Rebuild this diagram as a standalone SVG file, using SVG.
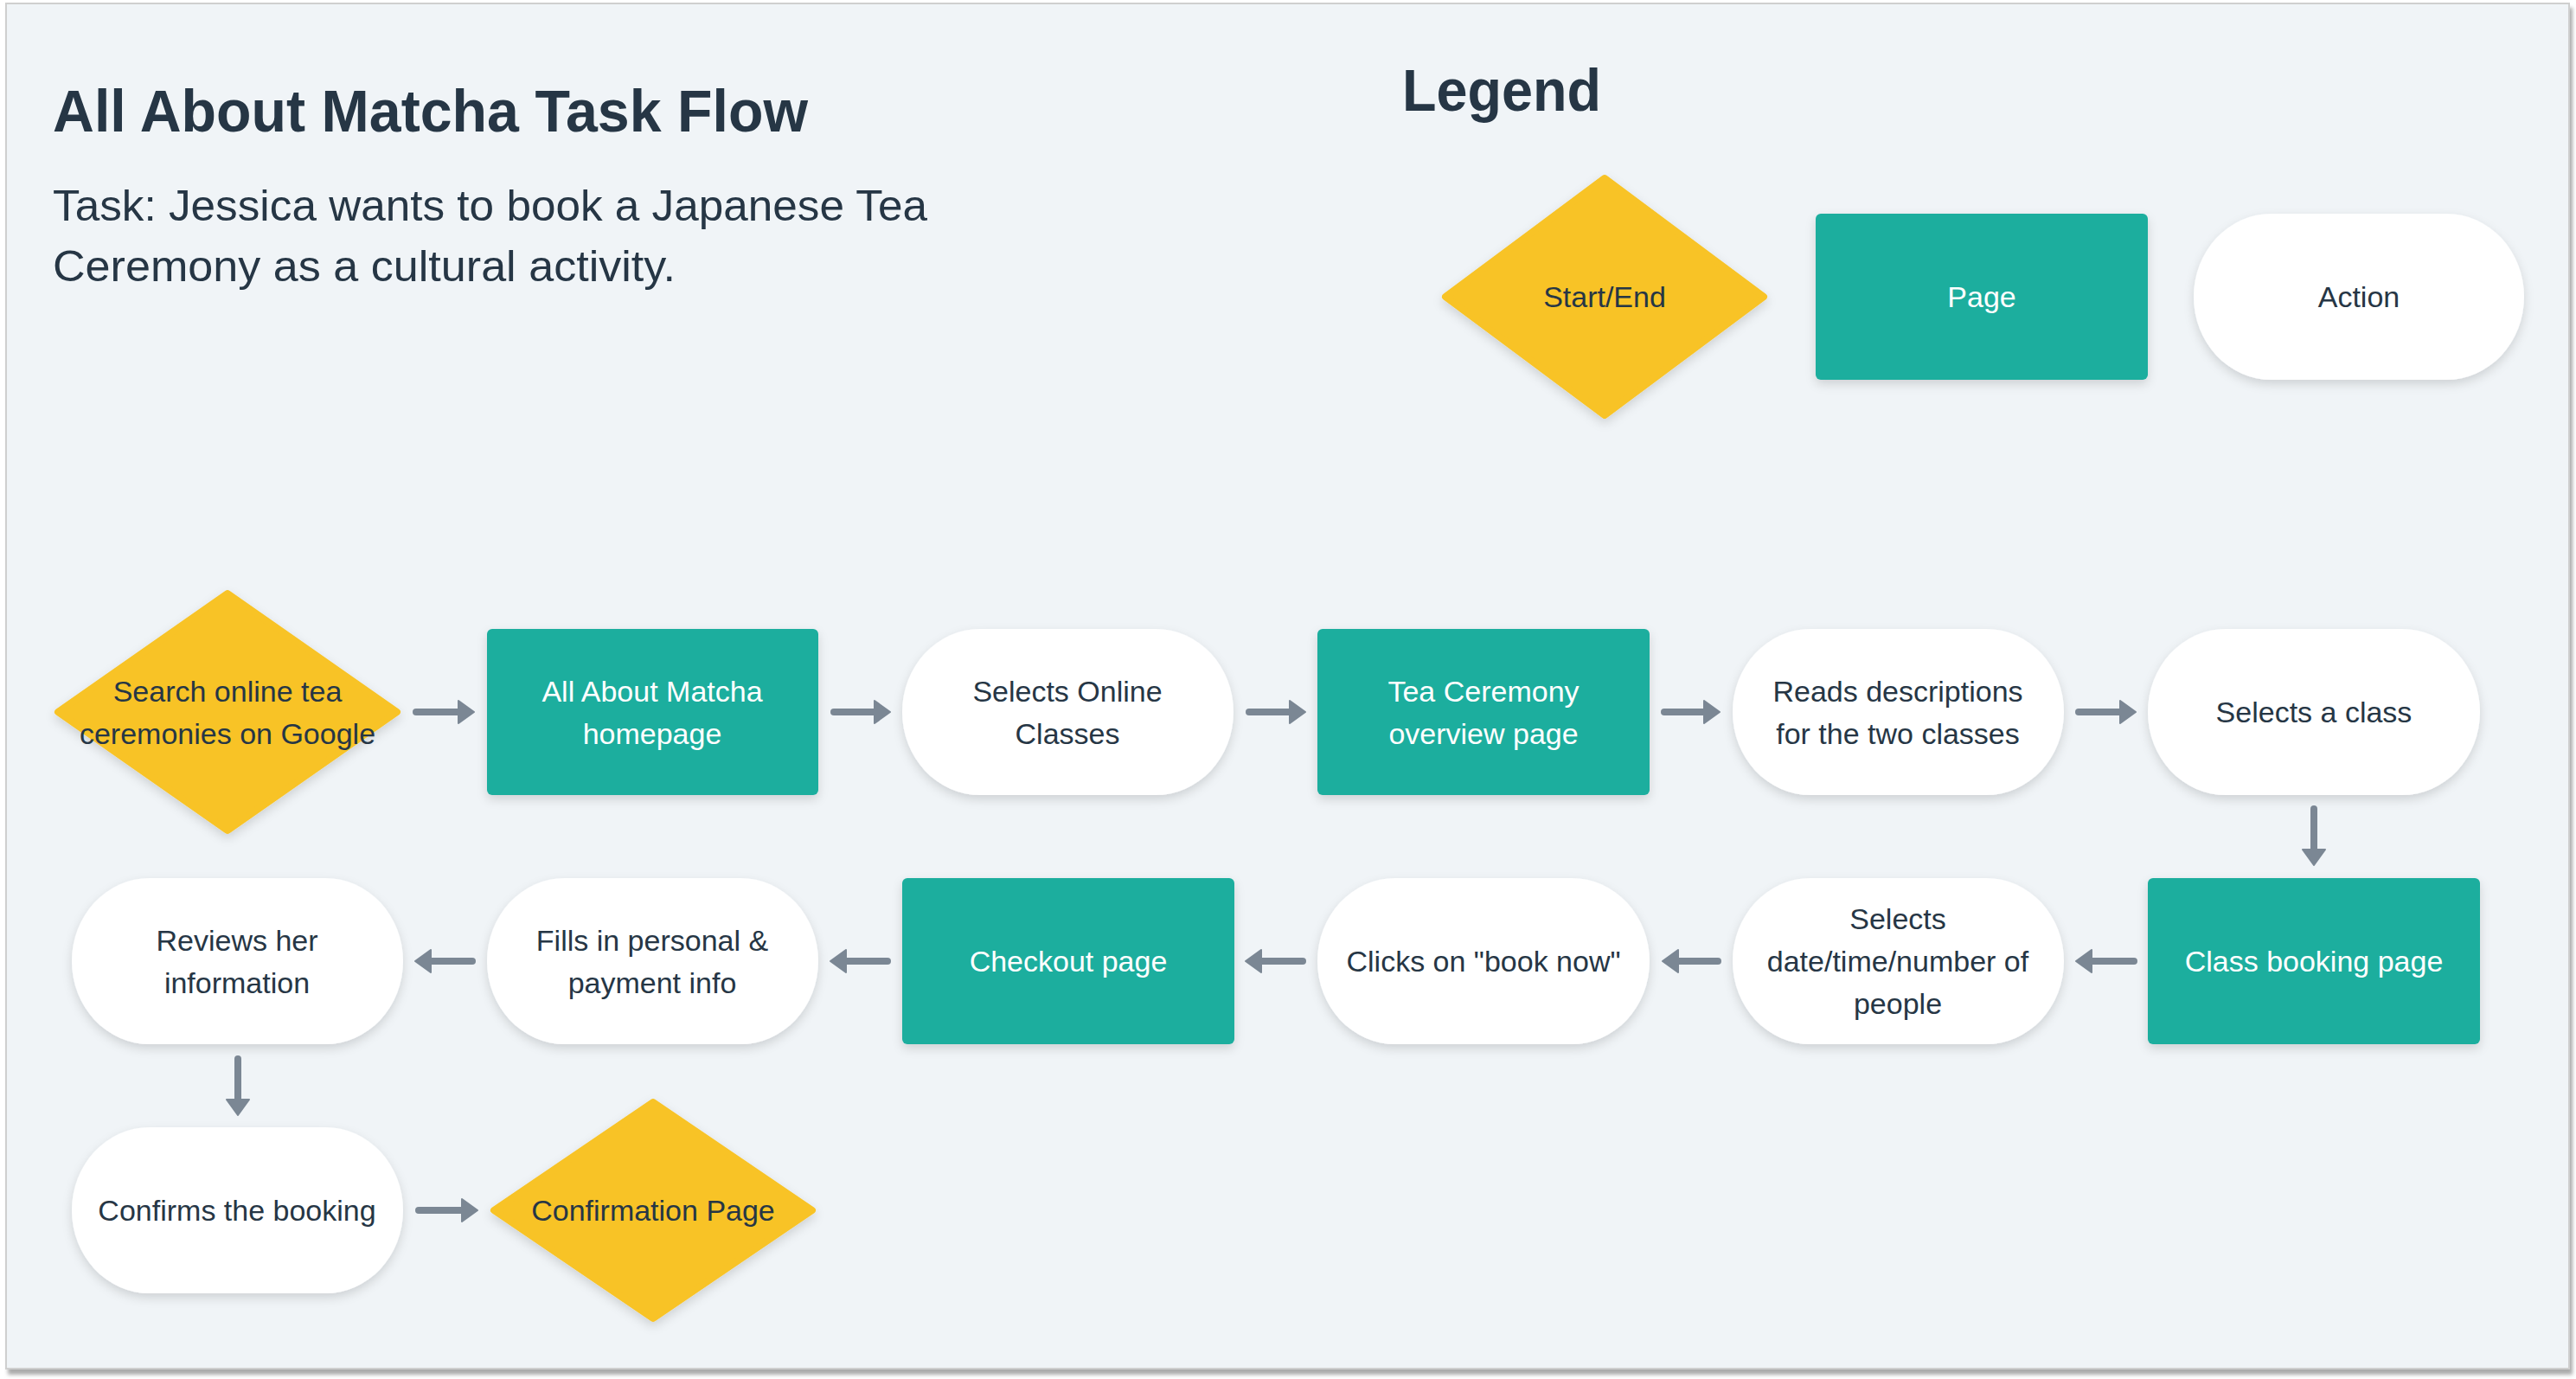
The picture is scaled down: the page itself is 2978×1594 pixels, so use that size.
<svg xmlns="http://www.w3.org/2000/svg" width="2978" height="1594" viewBox="0 0 2978 1594">
<defs>
<style>
.bg{fill:#F0F4F7;stroke:#cfcfcf;stroke-width:2}
.start{fill:#F8C326;stroke:#F8C326;stroke-width:8;stroke-linejoin:round}
.page{fill:#1BAE9E}
.action{fill:#FFFFFF}
.t{font-family:"Liberation Sans",Arial,sans-serif;font-size:34px;text-anchor:middle;fill:#263645}
.tw{fill:#FFFFFF}
.h{font-family:"Liberation Sans",Arial,sans-serif;font-weight:bold;font-size:68px;fill:#263645}
.sub{font-family:"Liberation Sans",Arial,sans-serif;font-size:50px;fill:#263645}
.conn{fill:none;stroke:#7B8794;stroke-width:8;stroke-linecap:round}
</style>
<filter id="sh" x="-10%" y="-10%" width="120%" height="130%">
<feDropShadow dx="0" dy="5" stdDeviation="6" flood-color="#000" flood-opacity="0.14"/>
</filter>
<filter id="psh" x="-2%" y="-2%" width="104%" height="104%">
<feDropShadow dx="3" dy="6" stdDeviation="2" flood-color="#888" flood-opacity="0.7"/>
</filter>
<marker id="ah" viewBox="-1 -1 20 28" refX="2" refY="13" markerWidth="20" markerHeight="28" markerUnits="userSpaceOnUse" orient="auto">
<path d="M0,0 L18,13 L0,26 Z" fill="#7B8794" stroke="#7B8794" stroke-width="2" stroke-linejoin="round"/>
</marker>
</defs>
<rect x="0" y="0" width="2978" height="1594" fill="#FFFFFF"/>
<rect class="bg" x="7" y="4" width="2963" height="1578" filter="url(#psh)"/>

<g id="title">
<text class="h" x="61" y="152" textLength="873" lengthAdjust="spacingAndGlyphs">All About Matcha Task Flow</text>
<text class="sub" x="61" y="255" textLength="1011" lengthAdjust="spacingAndGlyphs">Task: Jessica wants to book a Japanese Tea</text>
<text class="sub" x="61" y="325" textLength="720" lengthAdjust="spacingAndGlyphs">Ceremony as a cultural activity.</text>
</g>

<g id="legend">
<text class="h" x="1621" y="128" textLength="230" lengthAdjust="spacingAndGlyphs">Legend</text>
<g id="legend-start">
<path class="start" filter="url(#sh)" d="M1855,206 L2039,343 L1855,480 L1671,343 Z"/>
<text class="t" x="1855" y="355">Start/End</text>
</g>
<g id="legend-page">
<rect class="page" filter="url(#sh)" x="2099" y="247" width="384" height="192" rx="6"/>
<text class="t tw" x="2291" y="355">Page</text>
</g>
<g id="legend-action">
<rect class="action" filter="url(#sh)" x="2536" y="247" width="382" height="192" rx="90" ry="96"/>
<text class="t" x="2727" y="355">Action</text>
</g>
</g>

<g id="connectors">
<path class="conn" marker-end="url(#ah)" d="M481,823 H532"/>
<path class="conn" marker-end="url(#ah)" d="M964,823 H1013"/>
<path class="conn" marker-end="url(#ah)" d="M1444,823 H1493"/>
<path class="conn" marker-end="url(#ah)" d="M1924,823 H1972"/>
<path class="conn" marker-end="url(#ah)" d="M2403,823 H2453"/>
<path class="conn" marker-end="url(#ah)" d="M2675,935 V984"/>
<path class="conn" marker-end="url(#ah)" d="M2467,1111 H2416"/>
<path class="conn" marker-end="url(#ah)" d="M1986,1111 H1938"/>
<path class="conn" marker-end="url(#ah)" d="M1506,1111 H1456"/>
<path class="conn" marker-end="url(#ah)" d="M1026,1111 H976"/>
<path class="conn" marker-end="url(#ah)" d="M546,1111 H496"/>
<path class="conn" marker-end="url(#ah)" d="M275,1224 V1273"/>
<path class="conn" marker-end="url(#ah)" d="M484,1399 H536"/>
</g>

<g id="n-search">
<path class="start" filter="url(#sh)" d="M263,686 L459,823 L263,960 L67,823 Z"/>
<text class="t" x="263" y="811">Search online tea</text>
<text class="t" x="263" y="860">ceremonies on Google</text>
</g>
<g id="n-homepage">
<rect class="page" filter="url(#sh)" x="563" y="727" width="383" height="192" rx="6"/>
<text class="t tw" x="754" y="811">All About Matcha</text>
<text class="t tw" x="754" y="860">homepage</text>
</g>
<g id="n-online">
<rect class="action" filter="url(#sh)" x="1043" y="727" width="383" height="192" rx="90" ry="96"/>
<text class="t" x="1234" y="811">Selects Online</text>
<text class="t" x="1234" y="860">Classes</text>
</g>
<g id="n-overview">
<rect class="page" filter="url(#sh)" x="1523" y="727" width="384" height="192" rx="6"/>
<text class="t tw" x="1715" y="811">Tea Ceremony</text>
<text class="t tw" x="1715" y="860">overview page</text>
</g>
<g id="n-reads">
<rect class="action" filter="url(#sh)" x="2003" y="727" width="383" height="192" rx="90" ry="96"/>
<text class="t" x="2194" y="811">Reads descriptions</text>
<text class="t" x="2194" y="860">for the two classes</text>
</g>
<g id="n-selectclass">
<rect class="action" filter="url(#sh)" x="2483" y="727" width="384" height="192" rx="90" ry="96"/>
<text class="t" x="2675" y="835">Selects a class</text>
</g>
<g id="n-booking">
<rect class="page" filter="url(#sh)" x="2483" y="1015" width="384" height="192" rx="6"/>
<text class="t tw" x="2675" y="1123">Class booking page</text>
</g>
<g id="n-date">
<rect class="action" filter="url(#sh)" x="2003" y="1015" width="383" height="192" rx="90" ry="96"/>
<text class="t" x="2194" y="1074">Selects</text>
<text class="t" x="2194" y="1123">date/time/number of</text>
<text class="t" x="2194" y="1172">people</text>
</g>
<g id="n-clicks">
<rect class="action" filter="url(#sh)" x="1523" y="1015" width="384" height="192" rx="90" ry="96"/>
<text class="t" x="1715" y="1123">Clicks on "book now"</text>
</g>
<g id="n-checkout">
<rect class="page" filter="url(#sh)" x="1043" y="1015" width="384" height="192" rx="6"/>
<text class="t tw" x="1235" y="1123">Checkout page</text>
</g>
<g id="n-fills">
<rect class="action" filter="url(#sh)" x="563" y="1015" width="383" height="192" rx="90" ry="96"/>
<text class="t" x="754" y="1099">Fills in personal &amp;</text>
<text class="t" x="754" y="1148">payment info</text>
</g>
<g id="n-reviews">
<rect class="action" filter="url(#sh)" x="83" y="1015" width="383" height="192" rx="90" ry="96"/>
<text class="t" x="274" y="1099">Reviews her</text>
<text class="t" x="274" y="1148">information</text>
</g>
<g id="n-confirms">
<rect class="action" filter="url(#sh)" x="83" y="1303" width="383" height="192" rx="90" ry="96"/>
<text class="t" x="274" y="1411">Confirms the booking</text>
</g>
<g id="n-confirmation">
<path class="start" filter="url(#sh)" d="M755,1274 L939,1399 L755,1524 L571,1399 Z"/>
<text class="t" x="755" y="1411">Confirmation Page</text>
</g>
</svg>
